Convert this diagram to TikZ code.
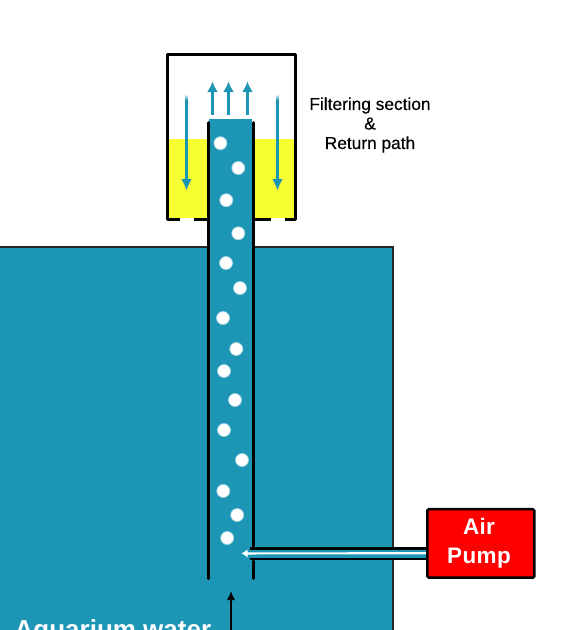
\documentclass[tikz,border=0pt]{standalone}
\usepackage{fontspec}
\setmainfont{Liberation Sans}
\newfontface\pumpfont[LetterSpace=1.5]{Liberation Sans Bold}
\newfontface\capfont[FakeBold=0.3]{Liberation Sans}
\usetikzlibrary{arrows.meta,shadings}
\definecolor{water}{RGB}{29,150,182}
\definecolor{fluid}{RGB}{247,255,51}
\definecolor{pumpred}{RGB}{255,0,0}
\tikzset{
  wall/.style={draw=black,line width=3pt},
  tubewall/.style={draw=black,line width=3pt,line cap=round},
  bubble/.style={circle,fill=white,draw=white!60!water,line width=.7pt,minimum size=13pt,inner sep=0pt},
  flowup/.style={draw=water,line width=2.8pt,-{Latex[length=10.5pt,width=11pt]}},
  flowdown/.style={draw=water,line width=2.6pt,-{Latex[length=11.5pt,width=11pt]}},
  caption/.style={text=black,font=\capfont\fontsize{17.3}{17.3}\selectfont,align=center,inner sep=0pt},
  pumpbox/.style={draw=black,fill=pumpred,line width=2.6pt,rounded corners=1.5pt,minimum width=107pt,minimum height=68.5pt,inner sep=0pt},
  pumptext/.style={text=white,font=\pumpfont\fontsize{22.5}{29}\selectfont,align=center},
  tanktext/.style={text=white,font=\fontsize{26}{26}\selectfont\bfseries,anchor=base west,inner sep=0pt},
  pointer/.style={draw=black,line width=1.7pt,-{Latex[length=9pt,width=8.5pt]}}
}
\begin{document}
\begin{tikzpicture}[x=1pt,y=-1pt]
\useasboundingbox (0,0) rectangle (561,630);
\clip (0,0) rectangle (561,630);
\fill[white] (0,0) rectangle (561,630);
% tank
\fill[water] (0,247) rectangle (393,631);
\draw[black!85,line width=1.5pt] (-2,247) -- (393,247) -- (393,632);
% filter section
\fill[fluid] (168,139) rectangle (295,218.4);
\draw[wall,line join=round] (180,219.7) -- (167.2,219.7) -- (167.2,54) -- (295.4,54) -- (295.4,219.7) -- (285,219.7);
\draw[wall] (194,219.7) -- (208,219.7);
\draw[wall] (253,219.7) -- (271,219.7);
% tube
\fill[water] (209,119) rectangle (252,579);
\draw[tubewall] (208,122.5) -- (208,578.5);
\draw[tubewall] (253,122.5) -- (253,546);
\draw[tubewall] (253,561) -- (253,578.5);
% air line
\fill[water] (252,548) rectangle (427,559);
\draw[black,line width=2.8pt] (249.5,548.2) -- (427,548.2);
\draw[black,line width=2.8pt] (249.5,559) -- (427,559);
% pump
\node[pumpbox] (pump) at (480.8,543.4) {};
\node[pumptext] (pumplabel) at (479,543.2) {Air\\Pump};
\coordinate (airin) at (241.5,553.4);
\draw[white,line width=2.2pt,-{Latex[length=6pt,width=8.5pt]}] (pump.west) ++(0,9.9) -- (airin);
% flows
\foreach \n/\x in {a/212.5,b/228.5,c/247.5}{
  \coordinate (\n0) at (\x,115);
  \coordinate (\n1) at (\x,81.5);
  \draw[flowup] (\n0) -- (\n1);
}
\foreach \n/\x in {d/186.5,e/277.5}{
  \coordinate (\n0) at (\x,100);
  \coordinate (\n1) at (\x,190.5);
  \draw[flowdown] (\n0) -- (\n1);
  \shade[top color=white,bottom color=water] (\x-1.3,94) rectangle (\x+1.3,100.1);
}
% bubbles
\foreach \i/\x/\y in {1/220.4/143.2,2/238.3/168,3/226.3/200.2,4/238.3/233.3,5/226/263,6/240/288,7/223/318,8/236.3/349,9/224/371,10/235/400,11/224/430,12/242/460,13/223.3/491,14/237.2/515,15/227.2/538}{
  \node[bubble] (b\i) at (\x,\y) {};
}
% caption
\node[caption] (cap) at (370,125) {Filtering section\\[2.2pt]\&\\[2.2pt]Return path};
% bottom
\node[tanktext] (tank) at (14.5,638) {Aquarium water};
\coordinate (ptail) at (231,632);
\coordinate (phead) at (231,591);
\draw[pointer] (ptail) -- (phead);
\end{tikzpicture}
\end{document}
